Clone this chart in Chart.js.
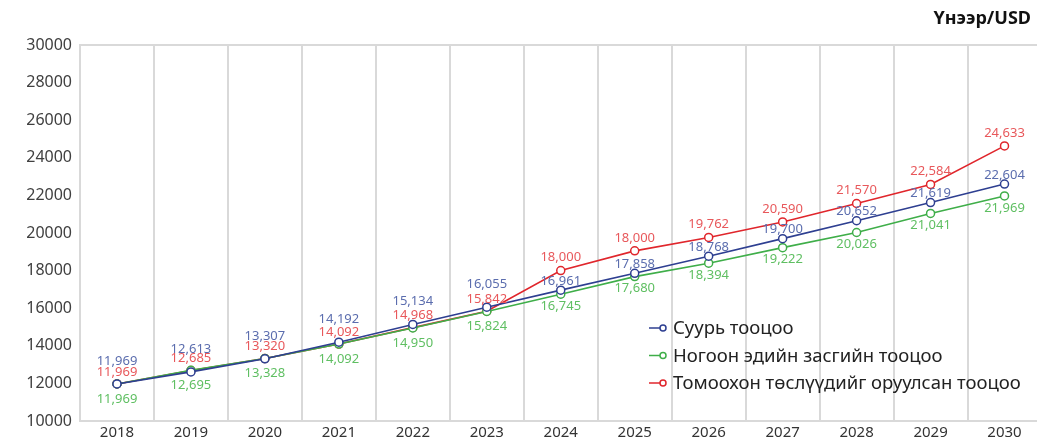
<!DOCTYPE html>
<html>
<head>
<meta charset="utf-8">
<script src="https://cdn.jsdelivr.net/npm/chart.js@4/dist/chart.umd.min.js"></script>
<style>
  html, body { margin: 0; padding: 0; background: #fff; overflow: hidden; }
  #wrap { position: relative; width: 1037px; height: 442px; overflow: hidden; }
  #box { position: absolute; left: 0; top: 0; width: 1047px; height: 442px; }
</style>
</head>
<body>
<div id="wrap"><div id="box"><canvas id="chart"></canvas></div></div>
<script>
const years = ['2018', '2019', '2020', '2021', '2022', '2023', '2024', '2025', '2026', '2027', '2028', '2029', '2030'];
const baseCase = [11969, 12613, 13307, 14192, 15134, 16055, 16961, 17858, 18768, 19700, 20652, 21619, 22604];
const greenCase = [11969, 12695, 13328, 14092, 14950, 15824, 16745, 17680, 18394, 19222, 20026, 21041, 21969];
const projectCase = [11969, 12685, 13320, 14092, 14968, 15842, 18000, 19050, 19762, 20590, 21570, 22584, 24633];
// the 2025 label in the source reads 18,000 although the point sits near 19,050
const projectLabels = ['11,969', '12,685', '13,320', '14,092', '14,968', '15,842', '18,000', '18,000', '19,762', '20,590', '21,570', '22,584', '24,633'];
const seriesNames = ['Суурь тооцоо', 'Ногоон эдийн засгийн тооцоо', 'Томоохон төслүүдийг оруулсан тооцоо'];
const unitLabel = 'Үнээр/USD';

const FONT = '"Noto Sans", "Open Sans", sans-serif';
const fmt = v => v.toLocaleString('en-US');

// value labels next to each point
const pointLabels = {
  id: 'pointLabels',
  afterDatasetsDraw(chart) {
    const ctx = chart.ctx;
    ctx.save();
    ctx.font = '13px ' + FONT;
    ctx.textAlign = 'center';
    ctx.textBaseline = 'middle';
    chart.data.datasets.forEach((ds, di) => {
      const meta = chart.getDatasetMeta(di);
      meta.data.forEach((pt, i) => {
        let dy, text;
        if (di === 0) { dy = i <= 5 ? -23 : -9; text = fmt(ds.data[i]); }
        else if (di === 1) { dy = i <= 5 ? 15 : 12; text = fmt(ds.data[i]); }
        else { dy = i <= 5 ? -12 : -13; text = projectLabels[i]; }
        ctx.fillStyle = ds.labelColor;
        ctx.fillText(text, pt.x, pt.y + dy);
      });
    });
    ctx.restore();
  }
};

// legend inside the plot, plus unit caption at top right
const extras = {
  id: 'extras',
  afterDraw(chart) {
    const ctx = chart.ctx;
    ctx.save();
    ctx.font = 'bold 18px ' + FONT;
    ctx.fillStyle = '#111';
    ctx.textAlign = 'right';
    ctx.textBaseline = 'middle';
    ctx.fillText(unitLabel, 1031, 19);

    ctx.font = '18.5px ' + FONT;
    ctx.textAlign = 'left';
    chart.data.datasets.forEach((ds, i) => {
      const y = 328 + i * 27.5;
      ctx.strokeStyle = ds.borderColor;
      ctx.lineWidth = 1.5;
      ctx.beginPath();
      ctx.moveTo(649, y);
      ctx.lineTo(660, y);
      ctx.stroke();
      ctx.fillStyle = '#fff';
      ctx.beginPath();
      ctx.arc(663, y, 3, 0, Math.PI * 2);
      ctx.fill();
      ctx.stroke();
      ctx.fillStyle = '#222';
      ctx.fillText(ds.label, 673, y + 1);
    });
    ctx.restore();
  }
};

const mkSet = (label, data, color, labelColor) => ({
  label, data,
  borderColor: color,
  backgroundColor: '#fff',
  labelColor,
  borderWidth: 1.6,
  pointRadius: 4,
  pointBorderWidth: 1.5,
  pointBackgroundColor: '#fff',
  pointBorderColor: color,
  tension: 0
});

new Chart(document.getElementById('chart'), {
  type: 'line',
  data: {
    labels: years,
    datasets: [
      mkSet(seriesNames[0], baseCase, '#2e3f91', '#5b6dae'),
      mkSet(seriesNames[1], greenCase, '#3fae49', '#5fbf62'),
      mkSet(seriesNames[2], projectCase, '#e0262c', '#e8585b')
    ]
  },
  options: {
    responsive: true,
    maintainAspectRatio: false,
    animation: false,
    layout: { padding: { top: 45, right: 0, left: 0, bottom: 0 } },
    plugins: {
      legend: { display: false },
      tooltip: { enabled: false }
    },
    scales: {
      x: {
        offset: true,
        grid: { offset: true, color: '#d9d9d9', lineWidth: 2, drawTicks: false },
        border: { color: '#d9d9d9', width: 2 },
        ticks: { color: '#333', font: { family: FONT, size: 15 }, padding: 3, maxRotation: 0 },
        afterFit: s => { s.height = 21; }
      },
      y: {
        min: 10000,
        max: 30000,
        ticks: {
          stepSize: 2000,
          color: '#404040',
          font: { family: FONT, size: 16 },
          padding: 8,
          callback: v => String(v)
        },
        grid: {
          drawTicks: false,
          lineWidth: 2,
          color: c => (c.tick && c.tick.value === 30000 ? '#d9d9d9' : 'rgba(0,0,0,0)')
        },
        border: { color: '#d9d9d9', width: 2 },
        afterFit: s => { s.width = 80; }
      }
    }
  },
  plugins: [pointLabels, extras]
});
</script>
</body>
</html>
